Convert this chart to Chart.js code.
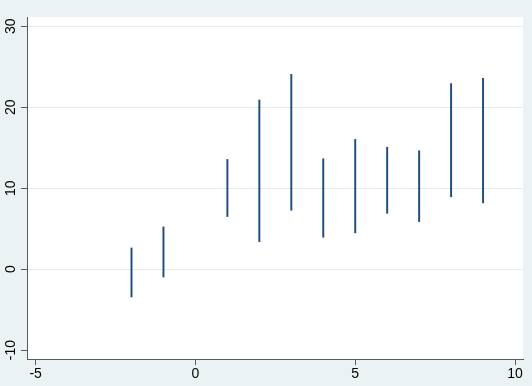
<!DOCTYPE html>
<html><head><meta charset="utf-8">
<script src="https://cdn.jsdelivr.net/npm/chart.js@4"></script>
<style>html,body{margin:0;padding:0;background:#EAF2F3}canvas{display:block}</style>
</head><body>
<div style="width:532px;height:386px"><canvas id="c" width="532" height="386"></canvas></div>
<script>
const xValues = [-2, -1, 1, 2, 3, 4, 5, 6, 7, 8, 9];
const lowValues = [-3.44, -0.97, 6.5, 3.4, 7.28, 3.94, 4.48, 6.9, 5.88, 8.94, 8.19];
const highValues = [2.62, 5.22, 13.55, 20.9, 24.07, 13.64, 16.03, 15.07, 14.63, 22.92, 23.58];
const xTicks = [-5, 0, 5, 10];
const yTicks = [-10, 0, 10, 20, 30];

const FONT = "'Liberation Sans', Arial, Helvetica, sans-serif";
const AXIS = '#5a5a5a';

const bgPlugin = {
  id: 'bg',
  beforeDraw(chart) {
    const {ctx, chartArea: a} = chart;
    ctx.save();
    ctx.fillStyle = '#EAF2F3';
    ctx.fillRect(0, 0, chart.width, chart.height);
    ctx.fillStyle = '#FFFFFF';
    ctx.fillRect(a.left, a.top, a.right - a.left, a.bottom - a.top);
    ctx.restore();
  },
  afterDraw(chart) {
    const {ctx} = chart;
    const ys = chart.scales.y;
    ctx.save();
    ctx.fillStyle = '#000';
    ctx.font = '14px ' + FONT;
    ctx.textAlign = 'center';
    ctx.textBaseline = 'middle';
    yTicks.forEach(v => {
      const py = ys.getPixelForValue(v);
      ctx.save();
      ctx.translate(11.5, py);
      ctx.rotate(-Math.PI / 2);
      ctx.fillText(String(v), 0, 0);
      ctx.restore();
    });
    ctx.restore();
  }
};

new Chart(document.getElementById('c'), {
  type: 'bar',
  data: {
    datasets: [{
      data: xValues.map((x, i) => ({x: x, y: [lowValues[i], highValues[i]]})),
      backgroundColor: '#1F4E79',
      borderWidth: 0,
      barThickness: 1.3
    }]
  },
  options: {
    responsive: false,
    animation: false,
    layout: {padding: {top: 17, right: 9, left: 0, bottom: 0}},
    plugins: {legend: {display: false}, tooltip: {enabled: false}},
    scales: {
      x: {
        type: 'linear',
        offset: false,
        min: -5.27,
        max: 10.25,
        afterBuildTicks: s => { s.ticks = xTicks.map(v => ({value: v})); },
        afterFit: s => { s.height = 27; },
        grid: {display: true, offset: false, drawOnChartArea: false, drawTicks: true, tickLength: 6, tickColor: AXIS},
        border: {display: true, color: AXIS, width: 1},
        ticks: {font: {family: FONT, size: 14}, color: '#000', padding: 1, maxRotation: 0, minRotation: 0, autoSkip: false,
          callback: v => String(v)}
      },
      y: {
        type: 'linear',
        min: -11.1,
        max: 31.15,
        afterBuildTicks: s => { s.ticks = yTicks.map(v => ({value: v})); },
        afterFit: s => { s.width = 27; },
        grid: {
          display: true,
          drawTicks: true,
          tickLength: 6,
          tickColor: AXIS,
          color: ctx => (ctx.tick && ctx.tick.value === -10) ? 'rgba(0,0,0,0)' : '#E3EDEF',
          lineWidth: 1
        },
        border: {display: true, color: AXIS, width: 1},
        ticks: {display: false}
      }
    }
  },
  plugins: [bgPlugin]
});
</script>
</body></html>
